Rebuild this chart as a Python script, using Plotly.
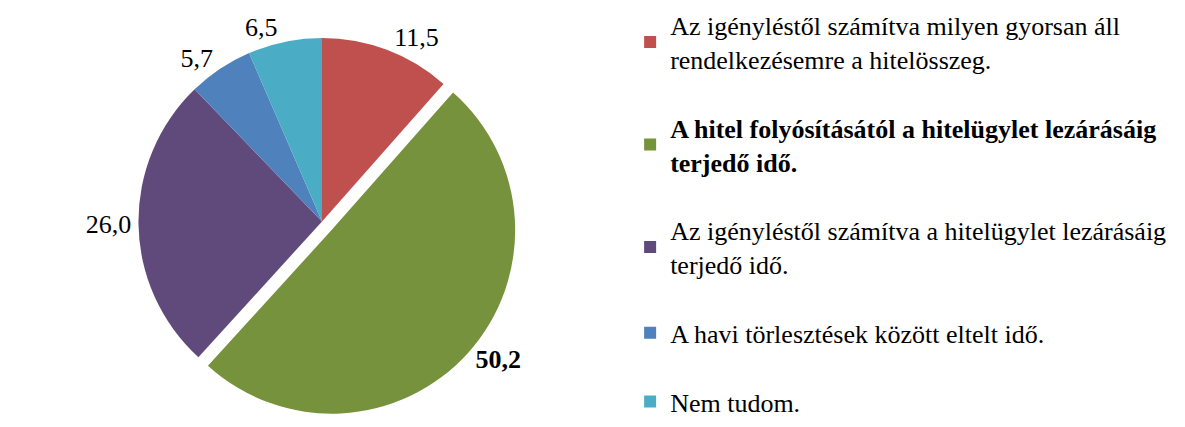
import plotly.graph_objects as go

categories = [
    "Az igényléstől számítva milyen gyorsan áll<br>rendelkezésemre a hitelösszeg.",
    "<b>A hitel folyósításától a hitelügylet lezárásáig<br>terjedő idő.</b>",
    "Az igényléstől számítva a hitelügylet lezárásáig<br>terjedő idő.",
    "A havi törlesztések között eltelt idő.",
    "Nem tudom.",
]
values = [11.5, 50.2, 26.0, 5.7, 6.5]
value_labels = ["11,5", "<b>50,2</b>", "26,0", "5,7", "6,5"]
colors = ["#C0504D", "#76923C", "#604A7B", "#4F81BD", "#4BACC6"]
pulls = [0, 0.07, 0, 0, 0]

FONT = "Liberation Serif"

fig = go.Figure()
fig.add_trace(go.Pie(
    values=values,
    labels=categories,
    text=value_labels,
    textinfo="text",
    textposition="outside",
    sort=False,
    direction="clockwise",
    rotation=0,
    pull=pulls,
    marker=dict(colors=colors, line=dict(width=0)),
    showlegend=False,
    domain=dict(x=[0.02, 0.51], y=[0.04, 0.96]),
    textfont=dict(family=FONT, size=26, color="black"),
))

for i, (cat, col) in enumerate(zip(categories, colors)):
    fig.add_trace(go.Scatter(
        x=[None], y=[None], mode="markers", name=cat,
        legendgroup=f"g{i}",
        marker=dict(symbol="square", size=12, color=col),
        hoverinfo="skip",
    ))

fig.update_layout(
    width=1185, height=427,
    margin=dict(l=0, r=0, t=0, b=0, autoexpand=False),
    paper_bgcolor="white", plot_bgcolor="white",
    xaxis=dict(visible=False), yaxis=dict(visible=False),
    font=dict(family=FONT, color="black", size=26),
    legend=dict(
        x=0.525, y=1.015, xanchor="left", yanchor="top",
        font=dict(family=FONT, size=26, color="black"),
        tracegroupgap=32, itemwidth=30,
        bgcolor="rgba(0,0,0,0)",
        maxheight=2000,
    ),
)

fig.write_html("out.html")
